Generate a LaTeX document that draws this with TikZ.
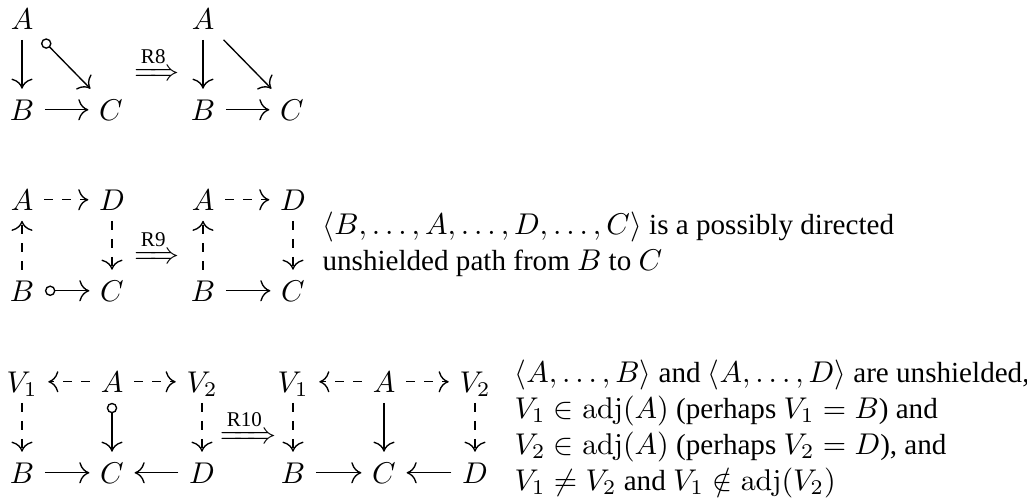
\documentclass[tikz,border=0pt]{standalone}
\usepackage{amsmath,mathtools}
\usepackage[no-math]{fontspec}
\setmainfont{Liberation Serif}
\usetikzlibrary{arrows.meta}
\tikzset{
  m/.style={anchor=base, inner sep=3.4pt, text height=6.83pt, text depth=0pt},
  ar/.style={-{Computer Modern Rightarrow[scale=1.3]}, line width=0.45pt},
  dar/.style={ar, dashed},
  circ/.style={{Circle[open,length=3.5pt,width=3.5pt]}-{Computer Modern Rightarrow[scale=1.3]}, line width=0.45pt},
  txt/.style={anchor=base west, align=left, inner sep=0pt, font=\fontsize{9.7}{12}\selectfont},
  rulearrow/.style={anchor=base, inner sep=0pt},
}
\begin{document}
\begin{tikzpicture}[x=0.33333pt,y=-0.33333pt]
\useasboundingbox (0,0) rectangle (1027,499);
% ---------- R8 ----------
\node[m] (a1) at (22,29) {$A$};
\node[m] (b1) at (22,120) {$B$};
\node[m] (c1) at (111,120) {$C$};
\draw[ar] (a1) -- (b1);
\draw[circ] (a1) -- (c1);
\draw[ar] (b1) -- (c1);
\node[rulearrow] (r8) at (157,80.5) {$\xRightarrow{\text{R8}}$};
\node[m] (a1r) at (203,29) {$A$};
\node[m] (b1r) at (203,120) {$B$};
\node[m] (c1r) at (292,120) {$C$};
\draw[ar] (a1r) -- (b1r);
\draw[ar] (a1r) -- (c1r);
\draw[ar] (b1r) -- (c1r);
% ---------- R9 ----------
\node[m] (a2) at (22,210) {$A$};
\node[m] (d2) at (112,210) {$D$};
\node[m] (b2) at (22,301) {$B$};
\node[m] (c2) at (112,301) {$C$};
\draw[dar] (a2) -- (d2);
\draw[dar] (b2) -- (a2);
\draw[dar] (d2) -- (c2);
\draw[circ] (b2) -- (c2);
\node[rulearrow] (r9) at (157,263.5) {$\xRightarrow{\text{R9}}$};
\node[m] (a2r) at (203,210) {$A$};
\node[m] (d2r) at (293,210) {$D$};
\node[m] (b2r) at (203,301) {$B$};
\node[m] (c2r) at (293,301) {$C$};
\draw[dar] (a2r) -- (d2r);
\draw[dar] (b2r) -- (a2r);
\draw[dar] (d2r) -- (c2r);
\draw[ar] (b2r) -- (c2r);
\node[txt] (t2) at (322,270) {$\langle B,\ldots,A,\ldots,D,\ldots,C\rangle$ is a possibly directed\\unshielded path from $B$ to $C$};
% ---------- R10 ----------
\node[m] (v13) at (22,392) {$V_1$};
\node[m] (a3) at (112,392) {$A$};
\node[m] (v23) at (202,392) {$V_2$};
\node[m] (b3) at (22,483) {$B$};
\node[m] (c3) at (112,483) {$C$};
\node[m] (d3) at (202,483) {$D$};
\draw[dar] (a3) -- (v13);
\draw[dar] (a3) -- (v23);
\draw[dar] (v13) -- (b3);
\draw[circ] (a3) -- (c3);
\draw[dar] (v23) -- (d3);
\draw[ar] (b3) -- (c3);
\draw[ar] (d3) -- (c3);
\node[rulearrow] (r10) at (248,443.5) {$\xRightarrow{\text{R10}}$};
\node[m] (v13r) at (293,392) {$V_1$};
\node[m] (a3r) at (384,392) {$A$};
\node[m] (v23r) at (475,392) {$V_2$};
\node[m] (b3r) at (293,483) {$B$};
\node[m] (c3r) at (384,483) {$C$};
\node[m] (d3r) at (475,483) {$D$};
\draw[dar] (a3r) -- (v13r);
\draw[dar] (a3r) -- (v23r);
\draw[dar] (v13r) -- (b3r);
\draw[ar] (a3r) -- (c3r);
\draw[dar] (v23r) -- (d3r);
\draw[ar] (b3r) -- (c3r);
\draw[ar] (d3r) -- (c3r);
\node[txt] (t3) at (514,490) {$\langle A,\ldots,B\rangle$ and $\langle A,\ldots,D\rangle$ are unshielded,\\
$V_1\in\mathrm{adj}(A)$ (perhaps $V_1=B$) and\\
$V_2\in\mathrm{adj}(A)$ (perhaps $V_2=D$), and\\
$V_1\neq V_2$ and $V_1\notin\mathrm{adj}(V_2)$};
\end{tikzpicture}
\end{document}
